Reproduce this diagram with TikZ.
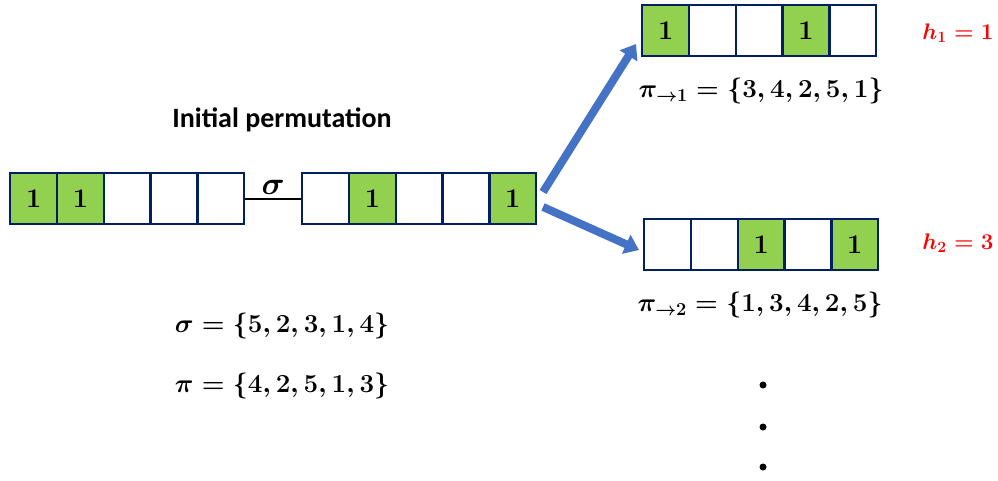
\RequirePackage{fix-cm}
\documentclass[tikz,border=0pt]{standalone}
\usepackage{fontspec}
\usepackage{amsmath,bm}
\newfontfamily\calibri{Carlito}
\usetikzlibrary{arrows.meta}
\definecolor{cellgreen}{HTML}{92D050}
\definecolor{cellborder}{HTML}{002060}
\definecolor{arrowblue}{HTML}{4472C4}
\tikzset{
  cell/.style={draw=cellborder, line width=2.4pt, fill=white, minimum width=46.8pt, minimum height=51pt, inner sep=0pt, anchor=north west, font=\fontsize{27}{30}\selectfont\bfseries},
  on/.style={fill=cellgreen},
  bigarrow/.style={draw=arrowblue, line width=8pt, -{Triangle[length=14pt,width=20pt]}},
  formula/.style={font=\fontsize{26}{30}\selectfont\boldmath, inner sep=0pt},
  hlabel/.style={font=\fontsize{22.5}{27}\selectfont\boldmath, text=red, inner sep=0pt},
  dot/.style={circle, fill=black, minimum size=7pt, inner sep=0pt}
}
\begin{document}
\begin{tikzpicture}[x=1pt,y=-1pt]
\useasboundingbox (0,0) rectangle (998,480);
% left array 1
\node[cell,on] (a1) at (9,172) {1};
\node[cell,on] (a2) at (55.8,172) {1};
\node[cell] (a3) at (102.6,172) {};
\node[cell] (a4) at (149.4,172) {};
\node[cell] (a5) at (196.2,172) {};
% left array 2
\node[cell] (b1) at (301,172) {};
\node[cell,on] (b2) at (347.8,172) {1};
\node[cell] (b3) at (394.6,172) {};
\node[cell] (b4) at (441.4,172) {};
\node[cell,on] (b5) at (488.2,172) {1};
\draw[line width=2.2pt] (a5.east) -- (b1.west) node[midway, above=3pt, font=\fontsize{32}{36}\selectfont\boldmath, inner sep=0pt] (sig) {$\sigma$};
% top right array
\node[cell,on] (c1) at (641,4) {1};
\node[cell] (c2) at (687.8,4) {};
\node[cell] (c3) at (734.6,4) {};
\node[cell,on] (c4) at (781.4,4) {1};
\node[cell] (c5) at (828.2,4) {};
% bottom right array
\node[cell] (d1) at (643,218) {};
\node[cell] (d2) at (689.8,218) {};
\node[cell,on] (d3) at (736.6,218) {1};
\node[cell] (d4) at (783.4,218) {};
\node[cell,on] (d5) at (830.2,218) {1};
% arrows
\coordinate (t1) at (543,192);
\coordinate (t2) at (543,207);
\coordinate (e1) at (636,44);
\coordinate (e2) at (639,250);
\draw[bigarrow] (t1) -- (e1);
\draw[bigarrow] (t2) -- (e2);
% texts
\node[font=\calibri\fontsize{28}{32}\selectfont\bfseries, inner sep=0pt] (title) at (282,120) {Initial permutation};
\node[formula] (fs) at (282,326) {$\sigma=\{5,2,3,1,4\}$};
\node[formula] (fp) at (282,386) {$\pi=\{4,2,5,1,3\}$};
\node[formula] (fp1) at (761,91) {$\pi_{\rightarrow 1}=\{3,4,2,5,1\}$};
\node[formula] (fp2) at (760,305) {$\pi_{\rightarrow 2}=\{1,3,4,2,5\}$};
\node[hlabel] (h1) at (958,33) {$h_1=1$};
\node[hlabel] (h2) at (958,243) {$h_2=3$};
\node[dot] (p1) at (763,385) {};
\node[dot] (p2) at (763,427) {};
\node[dot] (p3) at (763,467) {};
\end{tikzpicture}
\end{document}
